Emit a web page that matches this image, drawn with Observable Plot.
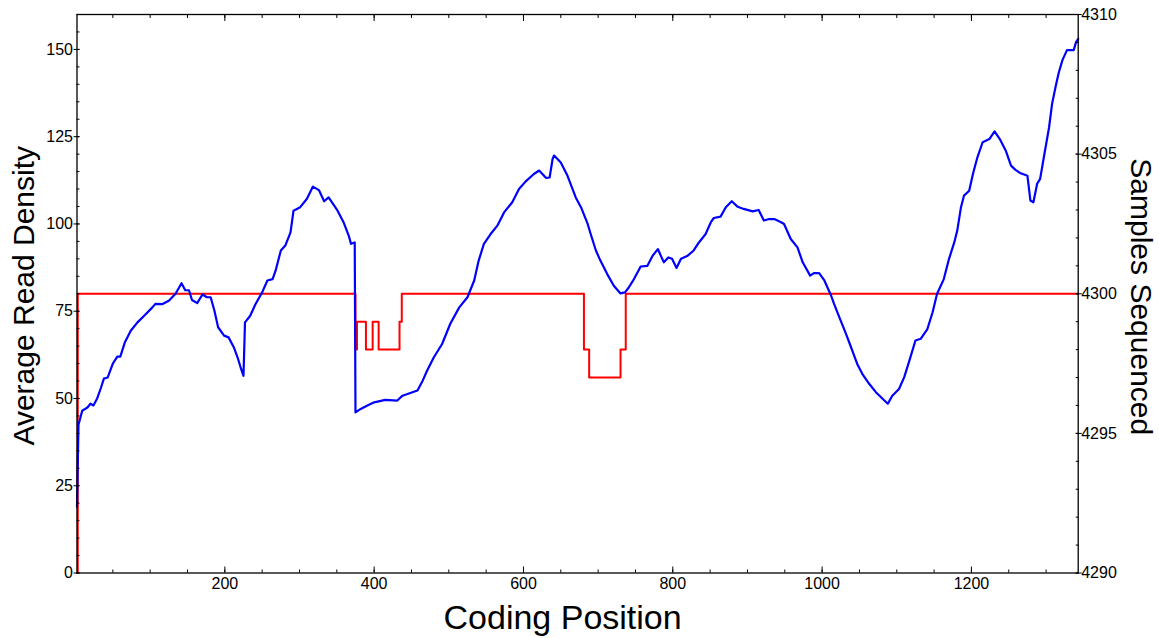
<!DOCTYPE html>
<html><head><meta charset="utf-8">
<script src="https://cdn.jsdelivr.net/npm/d3@7"></script>
<script src="https://cdn.jsdelivr.net/npm/@observablehq/plot@0.6"></script>
<style>html,body{margin:0;padding:0;background:#fff;}</style>
</head><body><div id="chart"></div>
<script>
// Average read density (blue) by coding position
const densityPos = [2,4,9,16,20,24,29,34,38,43,50,56,60,66,74,83,92,103,107,116,
  125,134,142,147,152,156,163,170,176,181,186,191,199,205,212,217,221,225,227,234,
  241,250,257,264,268,275,281,288,292,301,310,318,326,333,339,351,359,366,369,374,
  375,382,391,400,415,431,438,458,465,471,480,491,502,514,525,534,540,547,556,565,
  574,585,594,603,614,621,630,635,639,641,650,659,670,677,686,690,697,703,712,721,
  730,736,741,748,757,766,773,780,788,794,799,805,811,820,828,835,844,851,855,864,
  871,879,887,895,907,915,922,929,936,945,949,958,967,974,984,989,996,1003,1012,1016,
  1023,1032,1038,1047,1054,1063,1072,1081,1088,1094,1103,1110,1117,1125,1132,1141,1148,1154,1163,1170,
  1177,1181,1186,1190,1197,1202,1208,1215,1224,1231,1238,1246,1253,1259,1266,1275,1279,1283,1288,1292,
  1297,1304,1308,1313,1317,1322,1328,1337,1340,1343];
const densityVal = [19,42.5,46.5,47.4,48.5,48,50,53,55.7,56,60,62,62,66,69.4,71.8,73.7,76.1,77.1,77,
  78,80,83,81,81,78.2,77.3,79.8,79,79,75.2,70.4,68,67.5,64.7,61.8,59,56.5,71.8,73.7,
  77,80.4,83.8,84.2,86.6,92.4,93.8,97.6,103.8,104.8,107.2,110.7,109.7,106.5,107.6,103.8,100.5,96.6,94.3,94.7,
  46,47,48,48.9,49.6,49.4,50.8,52.3,55.1,58,61.8,65.6,71.4,76.1,79,83.8,89.5,94.3,97.1,99.5,
  103.3,106.2,110,112.2,114.3,115.3,113.2,113.3,118.6,119.6,117.6,113.8,107.6,104.8,100,97.1,92.4,89.5,85.7,82.3,
  80.1,80.4,81.8,84.2,87.8,88,90.9,92.8,89,90.4,90,87.4,90,90.9,92.4,94.7,97.1,100.5,101.7,102.1,
  104.8,106.5,104.9,104.3,103.6,104,101,101.4,101.4,100.5,100,95.7,93.3,89,85.2,85.9,85.9,83.8,79.5,77.1,
  73.3,68.5,65.1,59.9,57,54.2,51.8,49.9,48.5,50.8,52.7,56.1,60.9,66.6,67.1,69.9,74.7,80,84.2,90,
  94.7,98.1,104.8,108.1,109.5,114.3,119.1,123.4,124.3,126.5,124.3,121,116.7,115.5,114.5,113.8,106.7,106.2,111.5,112.9,
  119.1,127.7,134.4,139.6,143.4,147,149.8,149.8,152,153];

// Samples sequenced (red, right axis) – step changes
const samplesPos = [2,3,375,377,389,398,406,434,437,681,688,730,737,1343];
const samplesVal = [4290,4300,4298,4299,4298,4299,4298,4299,4300,4298,4297,4298,4300,4300];

// Tick labels
const leftTicks = [0,25,50,75,100,125,150];
const rightTicks = [4290,4295,4300,4305,4310];
const xTicks = [200,400,600,800,1000,1200];

const xLabel = "Coding Position";
const yLabel = "Average Read Density";
const y2Label = "Samples Sequenced";

// Right axis maps linearly onto left scale: 4290 -> 0, 4310 -> 160
const toLeft = s => (s - 4290) * 8;

const density = densityPos.map((p, i) => ({pos: p, val: densityVal[i]}));
const samples = samplesPos.map((p, i) => ({pos: p, val: toLeft(samplesVal[i])}));

const leftMinor = d3.range(0, 161, 5);
const rightMinor = d3.range(4290, 4311, 1).map(toLeft);
const xMinor = d3.range(50, 1343, 50);
const fmt = d => String(d);

const chart = Plot.plot({
  width: 1159,
  height: 638,
  marginLeft: 76.5,
  marginRight: 81.3,
  marginTop: 14,
  marginBottom: 65.5,
  x: {domain: [2, 1343]},
  y: {domain: [0, 160]},
  style: {fontFamily: "'Liberation Sans', Arial, sans-serif", background: "#fff", color: "#000"},
  marks: [
    Plot.line(samples, {x: "pos", y: "val", curve: "step-after", stroke: "#ff0000", strokeWidth: 2}),
    Plot.line(density, {x: "pos", y: "val", stroke: "#0000ff", strokeWidth: 2.2}),
    Plot.frame({stroke: "#000", strokeWidth: 1.3}),
    // left axis
    Plot.axisY({anchor: "left", ticks: leftMinor, tickSize: 3, dx: 3, tickFormat: () => "", label: null}),
    Plot.axisY({anchor: "left", ticks: leftTicks, tickSize: 6, dx: 3, tickFormat: () => "", label: null}),
    Plot.axisY({anchor: "left", ticks: leftTicks, tickSize: 0, tickPadding: 4, tickFormat: fmt, fontSize: 16, label: null}),
    // right axis
    Plot.axisY({anchor: "right", ticks: rightMinor, tickSize: 3, dx: -3, tickFormat: () => "", label: null}),
    Plot.axisY({anchor: "right", ticks: rightTicks.map(toLeft), tickSize: 6, dx: -3, tickFormat: () => "", label: null}),
    Plot.axisY({anchor: "right", ticks: rightTicks.map(toLeft), tickSize: 0, tickPadding: 3, tickFormat: d => String(4290 + d / 8), fontSize: 16, label: null}),
    // bottom axis
    Plot.axisX({anchor: "bottom", ticks: xMinor, tickSize: 3, dy: -3, tickFormat: () => "", label: null}),
    Plot.axisX({anchor: "bottom", ticks: xTicks, tickSize: 6, dy: -6, tickFormat: () => "", label: null}),
    Plot.axisX({anchor: "bottom", ticks: xTicks, tickSize: 0, tickPadding: 5, tickFormat: fmt, fontSize: 16, label: null}),
    // top ticks
    Plot.axisX({anchor: "top", ticks: xMinor, tickSize: 3, dy: 3, tickFormat: () => "", label: null}),
    Plot.axisX({anchor: "top", ticks: xTicks, tickSize: 6, dy: 6, tickFormat: () => "", label: null}),
    // axis titles
    Plot.text([yLabel], {frameAnchor: "left", text: d => d, rotate: -90, textAnchor: "middle", dx: -43, dy: 2, lineAnchor: "bottom", fontSize: 30, fill: "#000"}),
    Plot.text([y2Label], {frameAnchor: "right", text: d => d, rotate: 90, textAnchor: "middle", dx: 53, dy: 3, lineAnchor: "bottom", fontSize: 30, fill: "#000"}),
    Plot.text([xLabel], {frameAnchor: "bottom", text: d => d, textAnchor: "middle", dx: -15, dy: 55.5, lineAnchor: "bottom", fontSize: 34, fill: "#000"})
  ]
});
document.getElementById("chart").appendChild(chart);
</script>
</body></html>
